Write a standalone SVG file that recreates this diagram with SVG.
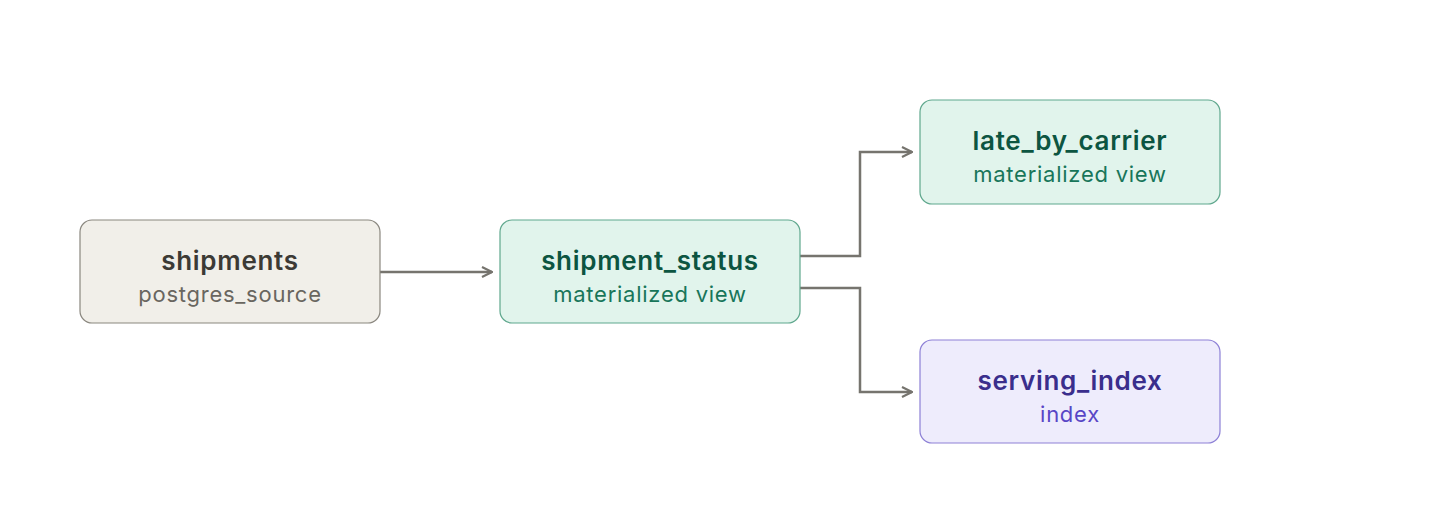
<svg xmlns="http://www.w3.org/2000/svg" width="1440" height="524" viewBox="0 0 1440 524">
<defs>
<style>
.t{font-family:Inter,"Noto Sans",sans-serif;font-size:26px;font-weight:600;letter-spacing:0.7px;text-anchor:middle}
.s{font-family:Inter,"Noto Sans",sans-serif;font-size:22px;font-weight:400;letter-spacing:0.75px;text-anchor:middle}
.e{fill:none;stroke:#76746e;stroke-width:2.5}
.src rect{fill:#f1efe9;stroke:#8a877f;stroke-width:1.2}
.src .t{fill:#3c3a35}.src .s{fill:#69665f}
.mv rect{fill:#e1f4ec;stroke:#5fa78d;stroke-width:1.2}
.mv .t{fill:#0c5541}.mv .s{fill:#18765a}
.ix rect{fill:#eeecfc;stroke:#8d80d6;stroke-width:1.2}
.ix .t{fill:#3a2e8c}.ix .s{fill:#5846c6}
</style>
<marker id="arr" viewBox="0 0 12 12" refX="11" refY="6" markerWidth="12" markerHeight="12" markerUnits="userSpaceOnUse" orient="auto">
<path d="M1,1 L11,6 L1,11" fill="none" stroke="#76746e" stroke-width="2.2"/>
</marker>
</defs>
<rect width="1440" height="524" fill="#ffffff"/>
<g id="connectors">
<path class="e" d="M380,272 H492" marker-end="url(#arr)"/>
<path class="e" d="M800,256 H860 V152 H912" marker-end="url(#arr)"/>
<path class="e" d="M800,288 H860 V392 H912" marker-end="url(#arr)"/>
</g>
<g id="shipments" class="src">
<rect x="80" y="220" width="300" height="103" rx="12"/>
<text class="t" x="230" y="270">shipments</text>
<text class="s" x="230" y="302">postgres_source</text>
</g>
<g id="shipment_status" class="mv">
<rect x="500" y="220" width="300" height="103" rx="12"/>
<text class="t" x="650" y="270">shipment_status</text>
<text class="s" x="650" y="302">materialized view</text>
</g>
<g id="late_by_carrier" class="mv">
<rect x="920" y="100" width="300" height="104" rx="12"/>
<text class="t" x="1070" y="150">late_by_carrier</text>
<text class="s" x="1070" y="182">materialized view</text>
</g>
<g id="serving_index" class="ix">
<rect x="920" y="340" width="300" height="103" rx="12"/>
<text class="t" x="1070" y="390">serving_index</text>
<text class="s" x="1070" y="422">index</text>
</g>
</svg>
